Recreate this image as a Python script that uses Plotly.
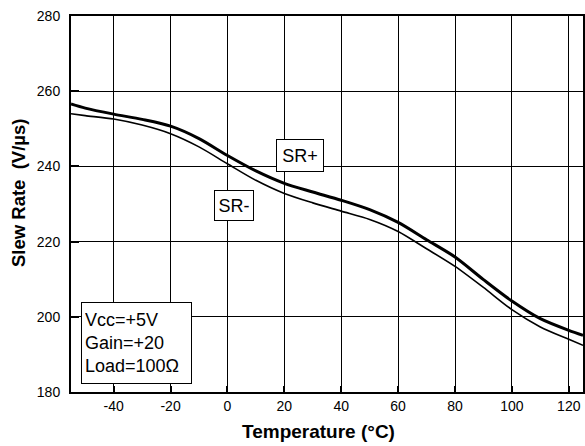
import plotly.graph_objects as go

temperature = [-55, -50, -40, -30, -20, -10, 0, 10, 20, 30, 40, 50, 60, 70, 80, 90, 100, 110, 120, 125]
sr_plus = [256.6, 255.5, 253.9, 252.5, 250.7, 247.4, 242.9, 238.8, 235.5, 233.2, 231.0, 228.5, 225.1, 220.5, 215.9, 209.9, 204.2, 199.5, 196.4, 195.1]
sr_minus = [254.0, 253.5, 252.6, 251.0, 248.7, 245.2, 240.7, 236.3, 232.8, 230.3, 228.1, 225.9, 222.7, 218.1, 213.4, 207.8, 201.9, 197.3, 194.0, 192.4]

x_ticks = [-40, -20, 0, 20, 40, 60, 80, 100, 120]
x_tick_labels = ["-40", "-20", "0", "20", "40", "60", "80", "100", "120"]
y_ticks = [180, 200, 220, 240, 260, 280]
y_tick_labels = ["180", "200", "220", "240", "260", "280"]

FONT = "Liberation Sans, Arial, sans-serif"

fig = go.Figure()
fig.add_trace(go.Scatter(x=temperature, y=sr_minus, mode="lines", line=dict(color="black", width=1.6, shape="spline", smoothing=0.8), name="SR-"))
fig.add_trace(go.Scatter(x=temperature, y=sr_plus, mode="lines", line=dict(color="black", width=3, shape="spline", smoothing=0.8), name="SR+"))

fig.update_layout(
    width=585, height=446,
    margin=dict(l=71, r=0, t=16, b=54),
    paper_bgcolor="white", plot_bgcolor="white",
    showlegend=False,
    font=dict(family=FONT, size=14, color="black"),
    xaxis=dict(range=[-55, 125], tickvals=x_ticks, ticktext=x_tick_labels, showgrid=True, gridcolor="black", gridwidth=1,
               showline=True, linecolor="black", linewidth=2, mirror=True,
               ticks="inside", ticklen=6, tickwidth=2, tickcolor="black",
               zeroline=False, tickfont=dict(size=14)),
    yaxis=dict(range=[180, 280], tickvals=y_ticks, ticktext=y_tick_labels, showgrid=True, gridcolor="black", gridwidth=1,
               showline=True, linecolor="black", linewidth=2, mirror=True,
               ticks="inside", ticklen=8, tickwidth=2, tickcolor="black",
               zeroline=False, tickfont=dict(size=14), ticklabelstandoff=6),
)

annotations = [
    dict(text="<b>Temperature (°C)</b>", xref="paper", yref="paper", x=0.4835, y=-0.106,
         showarrow=False, xanchor="center", yanchor="middle", font=dict(size=19)),
    dict(text="<b>Slew Rate  (V/µs)</b>", xref="paper", yref="paper", x=-0.103, y=0.53,
         showarrow=False, xanchor="center", yanchor="middle", textangle=-90, font=dict(size=18.5)),
    dict(text="SR+", x=25.6, y=243.0, showarrow=False, xanchor="center", yanchor="middle",
         font=dict(size=18), bgcolor="white", bordercolor="black", borderwidth=1, borderpad=3,
         width=40, height=25),
    dict(text="SR-", x=2.45, y=229.5, showarrow=False, xanchor="center", yanchor="middle",
         font=dict(size=18), bgcolor="white", bordercolor="black", borderwidth=1, borderpad=3,
         width=32, height=23),
    dict(text="Vcc=+5V<br>Gain=+20<br>Load=100Ω", x=-31.8, y=193.0, showarrow=False,
         xanchor="center", yanchor="middle", align="left",
         font=dict(size=18), bgcolor="white", bordercolor="black", borderwidth=1, borderpad=3,
         width=103, height=74),
]
fig.update_layout(annotations=annotations)

fig.write_html("out.html", config={"displayModeBar": False},
               post_script="document.body.style.margin='0';document.body.style.overflow='hidden';")
